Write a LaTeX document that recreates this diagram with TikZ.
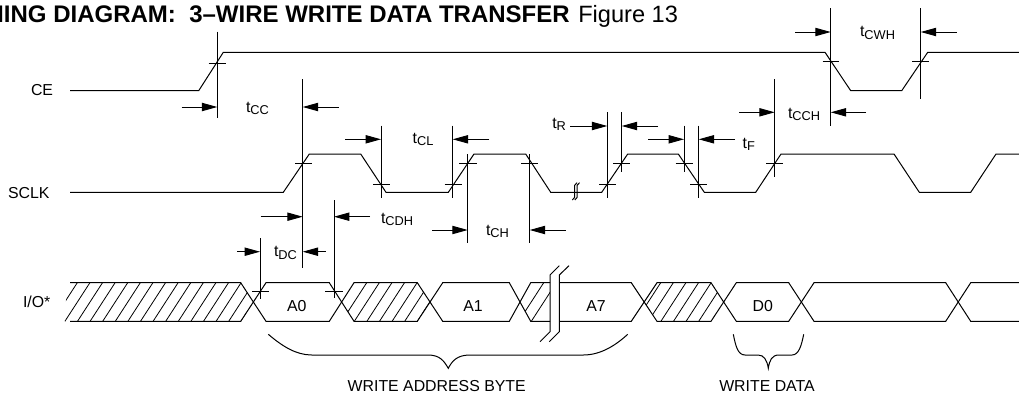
\documentclass[tikz,border=0pt]{standalone}
\usepackage{fontspec}
\setmainfont{Liberation Sans}
\usetikzlibrary{arrows.meta}
\newcommand{\tsub}[1]{t{\fontsize{9.6pt}{10pt}\selectfont\raisebox{-2.2pt}{#1}}}
\tikzset{
  wave/.style={line width=0.75pt,line join=miter},
  guide/.style={line width=0.75pt},
  hatchline/.style={line width=0.6pt},
  dimline/.style={line width=0.7pt,-{Triangle[length=11.5pt,width=6.2pt]}},
  lbl/.style={inner sep=0pt,outer sep=0pt,font=\fontsize{11.9pt}{13pt}\selectfont},
  brk/.style={line width=0.75pt}
}
\newcommand{\dimarrow}[3]{\draw[dimline] (#1,#3) -- (#2,#3);}
\newcommand{\vguide}[3]{\draw[guide] (#1,#2) -- (#1,#3);}
\newcommand{\tick}[3]{\draw[guide] (#1,#3) -- (#2,#3);}
\begin{document}
\begin{tikzpicture}[x=0.75pt,y=-0.75pt]
\useasboundingbox (0,0) rectangle (1019,397);
\fill[white] (0,0) rectangle (1019,397);
% title
\begin{scope}
\clip (0,0) rectangle (1019,397);
\node[inner sep=0pt,anchor=base east,font=\fontsize{18pt}{20pt}\selectfont\bfseries] (title) at (570,22) {TIMING DIAGRAM:\ \ 3–WIRE WRITE DATA TRANSFER};
\end{scope}
\node[inner sep=0pt,anchor=base west,font=\fontsize{17.7pt}{20pt}\selectfont] (fig) at (578,22) {Figure 13};
% signal names
\node[lbl,anchor=base west] (ce) at (31,95) {CE};
\node[lbl,anchor=base west] (sclk) at (8,198) {SCLK};
\node[lbl,anchor=base west] (io) at (23,307.7) {I/O*};
% CE
\draw[wave] (70,90.7) -- (198.7,90.7) -- (223.3,52.3) -- (825,52.3) -- (850.7,90.7) -- (901.7,90.7) -- (927.7,52.3) -- (1019,52.3);
% SCLK
\draw[wave] (70,192.3) -- (283.3,192.3) -- (309.3,154) -- (360.7,154) -- (386,192.3) -- (448.3,192.3) -- (474,154) -- (525.7,154) -- (550.7,192.3) -- (601.7,192.3) -- (627.7,154) -- (678.3,154) -- (704.3,192.3) -- (755.7,192.3) -- (781,154) -- (894,154) -- (919.3,192.3) -- (970.7,192.3) -- (996,154) -- (1019,154);
% SCLK break
\draw[brk] (572.3,200) -- (574.5,197.5) -- (574.5,185.5) -- (577,182.7);
\draw[brk] (574.8,200) -- (577,197.5) -- (577,185.5) -- (579.5,182.7);
% guides
\vguide{217.3}{31.7}{117.7}
\vguide{302.7}{79}{267.7}
\vguide{381}{125.7}{198}
\vguide{452.7}{125.7}{198}
\vguide{467.7}{154}{243.3}
\vguide{529.7}{154}{243.3}
\vguide{607.3}{112.3}{198}
\vguide{621.7}{112.3}{171.7}
\vguide{684}{125.7}{171.7}
\vguide{698.7}{125.7}{198}
\vguide{774.7}{79}{176.7}
\vguide{830.7}{8.3}{126}
\vguide{920.7}{8.3}{99}
\vguide{260}{238.3}{299}
\vguide{334}{200}{298.3}
% ticks
\tick{208.7}{226}{63.3}
\tick{822.7}{839.3}{61}
\tick{912.3}{929.3}{61}
\tick{295}{311.7}{163.3}
\tick{373}{390}{184}
\tick{444.5}{461.7}{184}
\tick{459}{476.7}{163.3}
\tick{521}{538}{163.3}
\tick{599}{616}{184}
\tick{613}{630}{163.3}
\tick{675.5}{692.5}{163.3}
\tick{690}{707}{184}
\tick{766}{783}{163.3}
\tick{252}{269}{291.7}
\tick{325}{342.7}{291.7}
% dimension arrows
\dimarrow{181.7}{217.3}{107}
\dimarrow{338.7}{302.7}{107}
\dimarrow{795.3}{830.7}{32}
\dimarrow{956.7}{920.7}{32}
\dimarrow{739}{774.7}{112.3}
\dimarrow{866}{830.7}{112.3}
\dimarrow{345}{381}{139.3}
\dimarrow{489.3}{452.7}{139.3}
\dimarrow{570.3}{607.3}{126}
\dimarrow{658}{621.7}{126}
\dimarrow{648.3}{684}{139.3}
\dimarrow{735}{698.7}{139.3}
\dimarrow{260.7}{302.7}{216.7}
\dimarrow{370}{334}{216.7}
\dimarrow{237.3}{260}{251.7}
\dimarrow{325.7}{302.7}{251.7}
\dimarrow{432.3}{467.7}{230}
\dimarrow{565.7}{529.7}{230}
% timing labels
\node[lbl,anchor=base west] (tcc) at (246,112) {\tsub{CC}};
\node[lbl,anchor=base west] (tcl) at (412.7,143) {\tsub{CL}};
\node[lbl,anchor=base west] (tcwh) at (860,36.7) {\tsub{CWH}};
\node[lbl,anchor=base west] (tcch) at (788,118) {\tsub{CCH}};
\node[lbl,anchor=base west] (tr) at (552.3,128) {\tsub{R}};
\node[lbl,anchor=base west] (tf) at (742.7,148) {\tsub{F}};
\node[lbl,anchor=base west] (tcdh) at (381,223) {\tsub{CDH}};
\node[lbl,anchor=base west] (tdc) at (274,256.7) {\tsub{DC}};
\node[lbl,anchor=base west] (tch) at (486,235) {\tsub{CH}};
% I/O hatching
\begin{scope}
\clip (63.5,322) -- (66.3,298) -- (72,282) -- (240.7,282) -- (253.3,302) -- (240.7,322) -- cycle;
\foreach \k in {0,...,15} \draw[hatchline] ({77.3+12.6*\k},282.7) -- ({52.3+12.6*\k},321.3);
\end{scope}
\begin{scope}
\clip (354,282.7) -- (417.3,282.7) -- (430,302) -- (417.3,321.3) -- (354,321.3) -- (341.7,302) -- cycle;
\foreach \k in {0,...,6} \draw[hatchline] ({366.7+12.6*\k},282.7) -- ({341.7+12.6*\k},321.3);
\end{scope}
\begin{scope}
\clip (530.7,282.7) -- (550,282.7) -- (550,321.3) -- (530.7,321.3) -- (519.9,302) -- cycle;
\foreach \k in {0,1} \draw[hatchline] ({543.7+12.6*\k},282.7) -- ({518.7+12.6*\k},321.3);
\end{scope}
\begin{scope}
\clip (657,282.7) -- (711,282.7) -- (723.7,302) -- (711,321.3) -- (657,321.3) -- (644.1,302) -- cycle;
\foreach \k in {0,...,5} \draw[hatchline] ({660.7+12.6*\k},282.7) -- ({635.7+12.6*\k},321.3);
\end{scope}
% I/O bus top and bottom
\foreach \yy/\yo in {282.7/321.3,321.3/282.7}{
  \draw[wave] (70,\yy) -- (240.7,\yy) -- (266,\yo) -- (329.3,\yo) -- (354,\yy) -- (417.3,\yy) -- (442.7,\yo) -- (509.3,\yo) -- (530.7,\yy) -- (550,\yy);
  \draw[wave] (559.3,\yy) -- (631.3,\yy) -- (657,\yo) -- (711,\yo) -- (736.3,\yy) -- (788.7,\yy) -- (814,\yo) -- (945.7,\yo) -- (970.7,\yy) -- (1019,\yy);
}
% I/O break
\draw[brk] (540,341.7) -- (550,331.7) -- (550,275) -- (559.3,265.7);
\draw[brk] (549.3,341.7) -- (559.3,331.7) -- (559.3,275) -- (569,265.7);
% data labels
\node[lbl] (a0) at (296.7,306) {A0};
\node[lbl] (a1) at (473,306) {A1};
\node[lbl] (a7) at (596,306) {A7};
\node[lbl] (d0) at (762.7,306) {D0};
% braces
\draw[wave] (268.3,334.3) .. controls (282,346) and (296,355) .. (311.7,355) -- (428,355) .. controls (440,355) and (444,361) .. (448.3,368.3) .. controls (452,361) and (457,355) .. (470,355) -- (583.3,355) .. controls (600,355) and (615,346) .. (627.7,334.3);
\draw[wave] (733.3,334.3) .. controls (735.5,345) and (737.5,355) .. (745,355) -- (758,355) .. controls (764,355) and (767,360) .. (768.3,368.3) .. controls (769.5,360) and (772,355) .. (779,355) -- (792,355) .. controls (799,355) and (801.5,345) .. (803.7,334.3);
\node[lbl,anchor=base] (wab) at (436.7,391) {WRITE ADDRESS BYTE};
\node[lbl,anchor=base] (wd) at (767,391) {WRITE DATA};
\end{tikzpicture}
\end{document}
